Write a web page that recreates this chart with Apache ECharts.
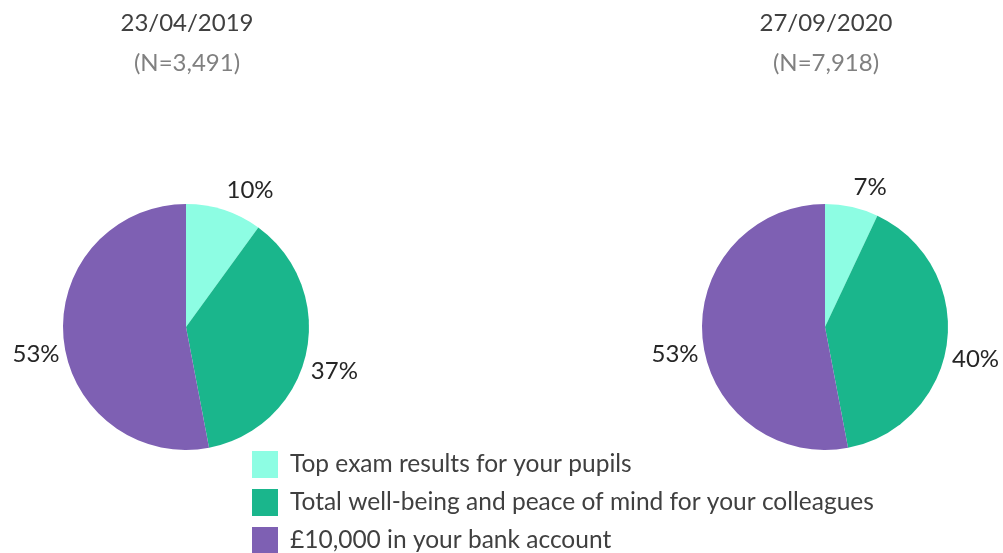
<!DOCTYPE html>
<html>
<head>
<meta charset="utf-8">
<script src="https://cdn.jsdelivr.net/npm/echarts@6/dist/echarts.min.js"></script>
<style>
  html, body { margin: 0; padding: 0; background: #fff; }
  #chart { width: 1003px; height: 553px; }
</style>
</head>
<body>
<div id="chart"></div>
<script>
// categories + values
const categories = [
  'Top exam results for your pupils',
  'Total well-being and peace of mind for your colleagues',
  '£10,000 in your bank account'
];
const dates = ['23/04/2019', '27/09/2020'];
const sampleSizes = ['(N=3,491)', '(N=7,918)'];
const values2019 = [10, 37, 53];
const values2020 = [7, 40, 53];
const colors = ['#8dfde3', '#1ab68c', '#7e60b3'];

const fontFamily = 'Lato, "Open Sans", sans-serif';

// small nudges so labels land where the original placed them
const labelShift = [[-5, -12], [-8, 16], [9, 15]];

function makeSeries(values, cx) {
  return {
    type: 'pie',
    center: [cx, 327],
    radius: 123,
    startAngle: 90,
    clockwise: true,
    silent: true,
    data: values.map((v, i) => ({ name: categories[i], value: v })),
    label: {
      show: true,
      position: 'outside',
      formatter: '{c}%',
      fontSize: 24,
      color: '#262626',
      fontFamily: fontFamily,
      overflow: 'none'
    },
    labelLine: { show: false, length: 8, length2: 0 },
    labelLayout: function (p) {
      const s = labelShift[p.dataIndex];
      return { dx: s[0], dy: s[1] };
    },
    itemStyle: { borderWidth: 0 }
  };
}

function makeTitle(i, x) {
  return {
    text: dates[i],
    subtext: sampleSizes[i],
    left: x,
    top: 6,
    textAlign: 'center',
    itemGap: 16,
    textStyle: { fontSize: 24, fontWeight: 'normal', color: '#404040', fontFamily: fontFamily },
    subtextStyle: { fontSize: 24, color: '#808080', fontFamily: fontFamily }
  };
}

// one legend per row so the column is not wrapped by the page bottom
function makeLegend(i) {
  return {
    orient: 'vertical',
    left: 247,
    top: 446 + i * 38,
    icon: 'rect',
    itemWidth: 26,
    itemHeight: 27,
    selectedMode: false,
    textStyle: { fontSize: 24.5, color: '#404040', fontFamily: fontFamily, padding: [0, 0, 0, 7] },
    data: [categories[i]]
  };
}

const options = {
  color: colors,
  animation: false,
  title: [makeTitle(0, 182), makeTitle(1, 821)],
  legend: categories.map((c, i) => makeLegend(i)),
  series: [
    makeSeries(values2019, 186),
    makeSeries(values2020, 825)
  ]
};

const myChart = echarts.init(document.getElementById('chart'), null, { renderer: 'canvas' });
myChart.setOption(options);
</script>
</body>
</html>
